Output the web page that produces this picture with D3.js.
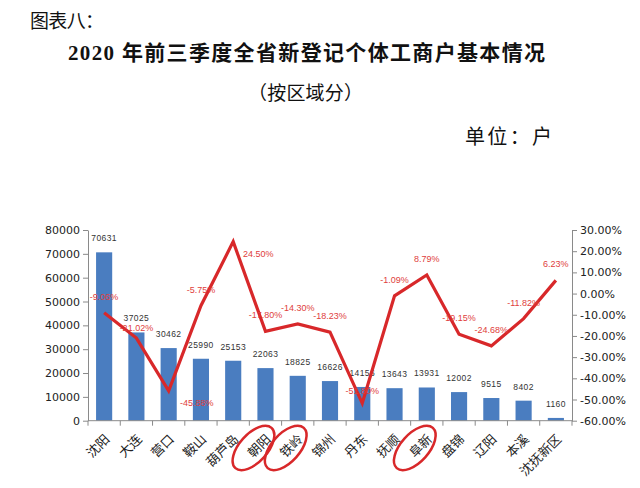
<!DOCTYPE html>
<html>
<head>
<meta charset="utf-8">
<script src="https://cdn.jsdelivr.net/npm/d3@7"></script>
<style>
  html, body { margin: 0; padding: 0; background: #ffffff; }
  svg { display: block; }
</style>
</head>
<body>
<div id="chart"></div>
<script>
// ---------------- data ----------------
const categories = ["沈阳", "大连", "营口", "鞍山", "葫芦岛", "朝阳", "铁岭", "锦州", "丹东", "抚顺", "阜新", "盘锦", "辽阳", "本溪", "沈抚新区"];
const counts = [70631, 37025, 30462, 25990, 25153, 22063, 18825, 16626, 14156, 13643, 13931, 12002, 9515, 8402, 1160];
const growth = [-9.06, -21.02, -45.88, -5.75, 24.50, -17.80, -14.30, -18.23, -51.80, -1.09, 8.79, -19.15, -24.68, -11.82, 6.23];
const leftTicks = [0, 10000, 20000, 30000, 40000, 50000, 60000, 70000, 80000];
const rightTicks = [-60, -50, -40, -30, -20, -10, 0, 10, 20, 30];
const circled = ["朝阳", "铁岭", "阜新"];
const titleLine0 = "图表八：";
const titleLine1 = "2020 年前三季度全省新登记个体工商户基本情况";
const titleLine2 = "（按区域分）";
const unitText = "单位：户";

// ---------------- layout ----------------
const W = 640, H = 488;
const plot = { left: 88, right: 572, top: 230, bottom: 420.7 };
const cjk = "'Noto Sans CJK SC', sans-serif";

const svg = d3.select("#chart").append("svg")
  .attr("width", W).attr("height", H)
  .attr("viewBox", `0 0 ${W} ${H}`);

svg.append("rect").attr("width", W).attr("height", H).attr("fill", "#ffffff");

// titles
svg.append("text").attr("x", 30).attr("y", 28)
  .attr("font-family", cjk).attr("font-size", 19).attr("fill", "#111")
  .attr("textLength", 74).attr("lengthAdjust", "spacing")
  .text(titleLine0);
svg.append("text").attr("x", 68).attr("y", 60)
  .attr("font-family", "'Liberation Serif', " + cjk).attr("font-size", 21)
  .attr("font-weight", "bold").attr("fill", "#111")
  .attr("textLength", 477).attr("lengthAdjust", "spacing")
  .text(titleLine1);
svg.append("text").attr("x", 248).attr("y", 100)
  .attr("font-family", cjk).attr("font-size", 19).attr("fill", "#111")
  .attr("textLength", 115).attr("lengthAdjust", "spacing")
  .text(titleLine2);
svg.append("text").attr("x", 465).attr("y", 144)
  .attr("font-family", cjk).attr("font-size", 20).attr("fill", "#111")
  .attr("textLength", 87).attr("lengthAdjust", "spacing")
  .text(unitText);

// scales
const x = d3.scaleBand().domain(categories)
  .range([plot.left, plot.right]).paddingInner(0.5).paddingOuter(0.25);
const yL = d3.scaleLinear().domain([0, 80000]).range([plot.bottom, plot.top]);
const yR = d3.scaleLinear().domain([-60, 30]).range([plot.bottom, plot.top]);
const cx = c => x(c) + x.bandwidth() / 2;

const axisColor = "#8a8a8a";

// left axis
const gL = svg.append("g").attr("transform", `translate(${plot.left},0)`)
  .call(d3.axisLeft(yL).tickValues(leftTicks).tickFormat(d3.format("d")).tickSize(5).tickPadding(3).tickSizeOuter(0));
gL.select(".domain").attr("stroke", axisColor);
gL.selectAll(".tick line").attr("stroke", axisColor);
gL.selectAll(".tick text").attr("font-family", "'DejaVu Sans', sans-serif").attr("font-size", 11).attr("fill", "#222");

// right axis
const gR = svg.append("g").attr("transform", `translate(${plot.right},0)`)
  .call(d3.axisRight(yR).tickValues(rightTicks).tickFormat(d => d.toFixed(2) + "%").tickSize(5).tickPadding(3).tickSizeOuter(0));
gR.select(".domain").attr("stroke", axisColor);
gR.selectAll(".tick line").attr("stroke", axisColor);
gR.selectAll(".tick text").attr("font-family", "'DejaVu Sans', sans-serif").attr("font-size", 11).attr("fill", "#222");

// bars
svg.append("g").selectAll("rect").data(categories).join("rect")
  .attr("x", c => x(c))
  .attr("width", x.bandwidth())
  .attr("y", (c, i) => yL(counts[i]))
  .attr("height", (c, i) => yL(0) - yL(counts[i]))
  .attr("fill", "#4a7dc0");

// bottom axis
svg.append("line").attr("x1", plot.left).attr("x2", plot.right)
  .attr("y1", plot.bottom).attr("y2", plot.bottom).attr("stroke", axisColor);
const step = x.step();
svg.append("g").selectAll("line").data(d3.range(categories.length + 1)).join("line")
  .attr("x1", i => plot.left + i * step).attr("x2", i => plot.left + i * step)
  .attr("y1", plot.bottom).attr("y2", plot.bottom + 5).attr("stroke", axisColor);

// x labels
svg.append("g").selectAll("text").data(categories).join("text")
  .attr("transform", c => `translate(${cx(c) + 3},${plot.bottom + 16}) rotate(-45)`)
  .attr("text-anchor", "end")
  .attr("dy", "0.35em")
  .attr("font-family", cjk).attr("font-size", 13).attr("fill", "#222")
  .text(c => c);

// bar value labels
svg.append("g").selectAll("text").data(categories).join("text")
  .attr("x", c => cx(c))
  .attr("y", (c, i) => yL(counts[i]) - 11)
  .attr("text-anchor", "middle")
  .attr("font-family", "'Liberation Sans', sans-serif").attr("font-size", 8.5)
  .attr("letter-spacing", 0.4)
  .attr("fill", "#333")
  .text((c, i) => counts[i]);

// line
const line = d3.line().x((d, i) => cx(categories[i])).y(d => yR(d));
svg.append("path").datum(growth)
  .attr("d", line)
  .attr("fill", "none").attr("stroke", "#d8282a").attr("stroke-width", 3.2)
  .attr("stroke-linejoin", "miter");

// growth labels (default above the point, a few nudged as in the source)
const nudge = { "大连": [0, 6], "营口": [28, 28], "葫芦岛": [25, 28], "丹东": [0, 4] };
svg.append("g").selectAll("text").data(categories).join("text")
  .attr("x", c => cx(c) + (nudge[c] ? nudge[c][0] : 0))
  .attr("y", (c, i) => yR(growth[i]) - 13 + (nudge[c] ? nudge[c][1] : 0))
  .attr("text-anchor", "middle")
  .attr("font-family", "'Liberation Sans', sans-serif").attr("font-size", 9)
  .attr("fill", "#e0403c")
  .text((c, i) => growth[i].toFixed(2) + "%");

// red hand-drawn circles around some categories
svg.append("g").selectAll("ellipse").data(circled).join("ellipse")
  .attr("transform", c => `translate(${cx(c) - 12},448) rotate(-48)`)
  .attr("rx", 27).attr("ry", 14)
  .attr("fill", "none").attr("stroke", "#d8282a").attr("stroke-width", 2.5);
</script>
</body>
</html>
